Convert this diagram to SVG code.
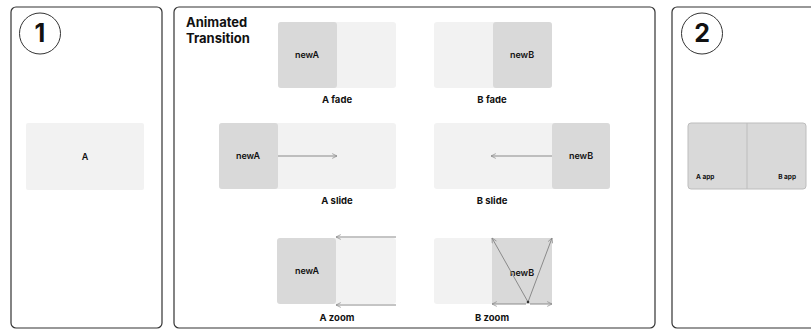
<svg xmlns="http://www.w3.org/2000/svg" width="811" height="330" viewBox="0 0 811 330">
<style>
.panel{fill:#fff;stroke:#333;stroke-width:1.2}
.light{fill:#f2f2f2}
.dark{fill:#d9d9d9}
.t{font-family:Inter,"Liberation Sans",sans-serif;font-weight:700;fill:#111;text-anchor:middle}
.lbl{font-size:9.5px}
.node{font-size:9px;font-weight:600}
.num{font-size:25px}
.title{font-size:13px;text-anchor:start}
.conn{stroke:#8a8a8a;stroke-width:1;fill:none}
</style>
<defs>
<marker id="ah" viewBox="0 0 10 10" refX="9" refY="5" markerWidth="6" markerHeight="6" orient="auto-start-reverse" markerUnits="userSpaceOnUse">
<path d="M1,1 L9,5 L1,9" fill="none" stroke="#8a8a8a" stroke-width="1.2"/>
</marker>
</defs>
<g id="panel1">
<rect class="panel" x="11" y="7" width="151" height="321" rx="5"/>
<circle cx="40" cy="33.5" r="20.5" fill="none" stroke="#333" stroke-width="1"/>
<text class="t num" x="40" y="42">1</text>
</g>
<g id="nodeA">
<rect class="light" x="26" y="123" width="118" height="67" rx="2"/>
<text class="t node" x="85" y="160">A</text>
</g>
<g id="panel2">
<rect class="panel" x="174" y="7" width="481" height="321" rx="5"/>
<text class="t title" x="186" y="27">Animated</text>
<text class="t title" x="186" y="43">Transition</text>
</g>
<g id="afade">
<rect class="light" x="278" y="22" width="118" height="66" rx="3"/>
<rect class="dark" x="278" y="22" width="59" height="66" rx="3"/>
<text class="t node" x="307" y="58">newA</text>
<text class="t lbl" x="337" y="103">A fade</text>
</g>
<g id="bfade">
<rect class="light" x="434" y="22" width="118" height="66" rx="3"/>
<rect class="dark" x="493" y="22" width="59" height="66" rx="3"/>
<text class="t node" x="522" y="58">newB</text>
<text class="t lbl" x="492" y="103">B fade</text>
</g>
<g id="aslide">
<rect class="light" x="219" y="123" width="177" height="66" rx="3"/>
<rect class="dark" x="219" y="123" width="59" height="66" rx="3"/>
<text class="t node" x="248" y="159">newA</text>
<text class="t lbl" x="337" y="204">A slide</text>
</g>
<g id="bslide">
<rect class="light" x="434" y="123" width="176" height="66" rx="3"/>
<rect class="dark" x="552" y="123" width="58" height="66" rx="3"/>
<text class="t node" x="581" y="159">newB</text>
<text class="t lbl" x="492" y="204">B slide</text>
</g>
<g id="azoom">
<rect class="light" x="278" y="238" width="118" height="66" rx="3"/>
<rect class="dark" x="277" y="238" width="59" height="66" rx="3"/>
<text class="t node" x="307" y="274">newA</text>
<text class="t lbl" x="337" y="321">A zoom</text>
</g>
<g id="bzoom">
<rect class="light" x="434" y="238" width="118" height="66" rx="3"/>
<rect class="dark" x="492" y="238" width="60" height="66" rx="1"/>
<text class="t node" x="522" y="276">newB</text>
<text class="t lbl" x="492" y="321">B zoom</text>
</g>
<g id="panel3">
<rect class="panel" x="672" y="7" width="150" height="321" rx="5"/>
<circle cx="702" cy="33.5" r="20.5" fill="none" stroke="#333" stroke-width="1"/>
<text class="t num" x="702" y="42">2</text>
</g>
<g id="app">
<rect x="688" y="123" width="118" height="66" rx="3" fill="#d9d9d9" stroke="#bdbdbd" stroke-width="1"/>
<line x1="747" y1="123" x2="747" y2="189" stroke="#bdbdbd" stroke-width="1"/>
<text class="t" x="696" y="179" style="font-size:6.5px;text-anchor:start">A app</text>
<text class="t" x="796" y="179" style="font-size:6.5px;text-anchor:end">B app</text>
</g>
<g id="connectors">
<line class="conn" x1="278" y1="156" x2="337" y2="156" marker-end="url(#ah)"/>
<line class="conn" x1="552" y1="156" x2="491" y2="156" marker-end="url(#ah)"/>
<line class="conn" x1="396" y1="237" x2="336" y2="237" marker-end="url(#ah)"/>
<line class="conn" x1="396" y1="305" x2="336" y2="305" marker-end="url(#ah)"/>
<line class="conn" x1="528" y1="302" x2="492" y2="238" marker-end="url(#ah)"/>
<line class="conn" x1="528" y1="302" x2="552" y2="238" marker-end="url(#ah)"/>
<line class="conn" x1="526" y1="304" x2="492" y2="304" marker-end="url(#ah)"/>
<line class="conn" x1="530" y1="304" x2="552" y2="304" marker-end="url(#ah)"/>
<circle cx="528" cy="302" r="1.3" fill="#333"/>
</g>
</svg>
